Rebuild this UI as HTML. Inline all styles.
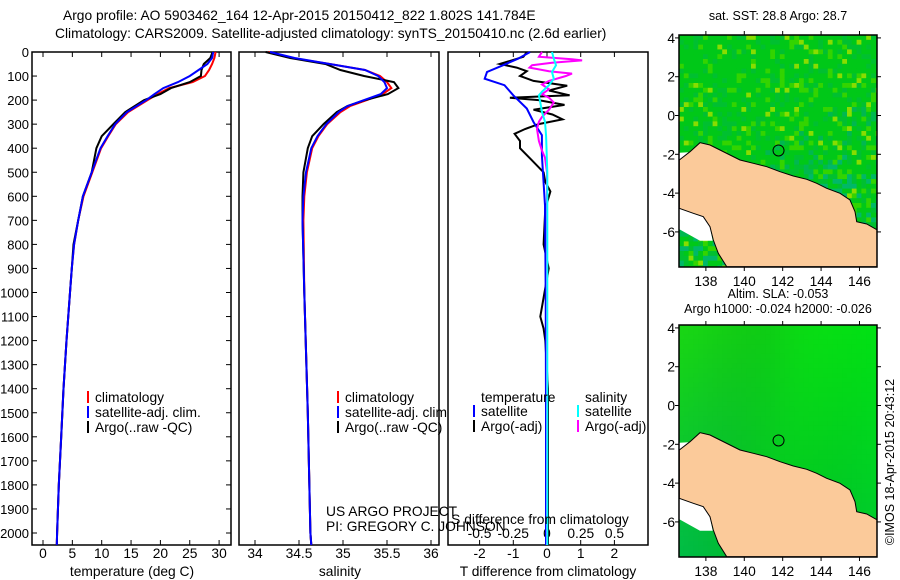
<!DOCTYPE html>
<html><head><meta charset="utf-8"><style>
body{margin:0;background:#fff}
svg{display:block;font-family:"Liberation Sans",sans-serif;font-size:13.8px}
</style></head><body>
<svg id="c" width="900" height="580" viewBox="0 0 900 580" xmlns="http://www.w3.org/2000/svg">
<g id="g"></g>
<text x="63" y="20">Argo profile: AO 5903462_164 12-Apr-2015 20150412_822 1.802S 141.784E</text>
<text x="55" y="38">Climatology: CARS2009. Satellite-adjusted climatology: synTS_20150410.nc (2.6d earlier)</text>
<text x="778" y="20" text-anchor="middle" font-size="12.5">sat. SST: 28.8 Argo: 28.7</text>
<text x="778" y="298" text-anchor="middle" font-size="12.5">Altim. SLA: -0.053</text>
<text x="778" y="313" text-anchor="middle" font-size="12.5">Argo h1000: -0.024 h2000: -0.026</text>
<text transform="translate(894,462) rotate(-90)" text-anchor="middle" font-size="12.5">©IMOS 18-Apr-2015 20:43:12</text>
<text x="326" y="516">US ARGO PROJECT</text>
<text x="326" y="531">PI: GREGORY C. JOHNSON</text>
</svg>
<script>
const depthT=[0,25,50,75,100,125,150,175,200,250,300,350,400,500,600,700,800,900,1000,1200,1400,1600,1800,2000,2050];
const climT=[29.4,29.2,28.8,28.3,27.6,25.5,21.5,19.5,17.8,14.5,12.4,11.1,9.9,8.4,6.9,6.0,5.3,4.9,4.6,4.0,3.5,3.1,2.7,2.4,2.35];
const satT=[29.0,28.8,28.0,26.5,25.0,23.0,20.5,19.0,17.6,14.3,12.3,11.0,9.8,8.3,6.8,6.0,5.3,4.9,4.6,4.0,3.5,3.1,2.7,2.4,2.35];
const argoT=[28.9,28.5,27.4,27.0,26.9,25.0,21.8,20.0,17.2,14.0,12.0,10.0,9.1,8.3,6.8,6.0,5.2,4.9,4.6,4.0,3.5,3.1,2.7,2.4,2.35];
const depthS=[0,25,50,75,100,125,150,175,200,225,250,300,350,400,500,600,700,1000,1500,2000,2050];
const climS=[34.15,34.42,34.85,35.25,35.42,35.5,35.55,35.45,35.27,35.08,34.97,34.82,34.72,34.65,34.59,34.56,34.55,34.56,34.6,34.63,34.64];
const satS=[34.17,34.45,34.85,35.25,35.4,35.47,35.5,35.43,35.24,35.05,34.95,34.81,34.71,34.64,34.58,34.55,34.54,34.56,34.6,34.63,34.64];
const argoS=[34.12,34.4,34.8,34.97,35.24,35.58,35.63,35.51,35.25,35.05,34.93,34.78,34.65,34.6,34.55,34.54,34.54,34.56,34.6,34.63,34.64];
const depthDT=[0,28,55,83,111,138,180,235,291,346,430,638,1000,1500,2050];
const satDT=[-0.5,-0.86,-1.3,-1.78,-1.85,-1.26,-1.0,-0.6,-0.4,-0.15,-0.15,-0.06,-0.04,-0.03,-0.03];
const depthAT=[0,20,50,65,80,100,120,140,160,180,190,200,220,240,260,280,300,320,340,370,400,450,500,540,580,650,800,900,1100,1150,1200,1400,2050];
const argoDT=[-0.6,-0.7,-1.4,-0.9,-0.6,-0.8,-0.4,0.6,0.06,0.67,-1.1,-0.25,0.52,-0.4,0.16,0.46,-0.25,-0.65,-0.96,-0.8,-0.8,-0.45,-0.1,-0.05,0.1,-0.05,-0.1,0.05,-0.2,-0.1,-0.05,0.03,0.03];
const depthDS=[0,28,55,83,111,138,165,180,210,250,290,350,500,2050];
const satDS=[0.037,0.05,0.067,0.037,0.05,0.015,-0.037,-0.06,-0.05,-0.037,-0.015,-0.007,0.002,0.002];
const depthAS=[0,20,30,35,45,55,65,80,90,100,120,135,155,175,190,210,240,270,290,320,370,410,440,500,2050];
const argoDS=[-0.037,-0.06,0.185,0.26,0.037,-0.11,-0.13,0.015,0.185,0.14,0.015,-0.037,0.015,-0.037,0.015,0.05,0.015,-0.037,-0.06,-0.074,-0.06,-0.037,-0.015,0,0];
const depthTicks=[0,100,200,300,400,500,600,700,800,900,1000,1100,1200,1300,1400,1500,1600,1700,1800,1900,2000];
const tempTicks=[0,5,10,15,20,25,30];
const salTicks=[34,34.5,35,35.5,36];
const dTTicks=[-2,-1,0,1,2];
const dSTicks=[-0.5,-0.25,0,0.25,0.5];
const lonTicks=[138,140,142,144,146];
const latTicks=[4,2,0,-2,-4,-6];

const NS='http://www.w3.org/2000/svg';
const G=document.getElementById('g');
function mk(t,a,p){const e=document.createElementNS(NS,t);for(const k in a)e.setAttribute(k,a[k]);(p||G).appendChild(e);return e;}
const TOP=52,BOT=545;
const yD=d=>TOP+d*0.2405;
const xTemp=v=>43+v*5.87;
const xSal=v=>255+(v-34)*88;
const xDT=v=>547+v*33.7;
const xDS=v=>547+v*135;

function panel(x0,x1,name){
  const r=mk('rect',{x:x0,y:TOP,width:x1-x0,height:BOT-TOP,fill:'#fff',stroke:'#000','stroke-width':1.5});
  
  
}
function line(xs,ds,fx,col,name){
  const pts=xs.map((v,i)=>fx(v).toFixed(1)+','+yD(ds[i]).toFixed(1)).join(' ');
  const p=mk('polyline',{points:pts,fill:'none',stroke:col,'stroke-width':2});
  
  
}
function xticks(ticks,fx,labelY,fmt){
  ticks.forEach(t=>{const x=fx(t);
    mk('line',{x1:x,x2:x,y1:TOP,y2:TOP+5,stroke:'#000'});
    mk('line',{x1:x,x2:x,y1:BOT,y2:BOT-5,stroke:'#000'});
    if(labelY){const tx=mk('text',{x:x,y:labelY,'text-anchor':'middle'});tx.textContent=fmt?fmt(t):t;
      
      }
  });
}
function legendEntry(x,y,col,label){
  if(col)mk('rect',{x:x,y:y-11,width:2,height:12,fill:col});
  const t=mk('text',{x:x+8,y:y});t.textContent=label;
  
  
}

panel(32,231,'temperature-panel');
depthTicks.forEach(d=>{const y=yD(d);
  mk('line',{x1:32,x2:37,y1:y,y2:y,stroke:'#000'});
  mk('line',{x1:231,x2:226,y1:y,y2:y,stroke:'#000'});
  const t=mk('text',{x:29,y:y+5,'text-anchor':'end','font-size':13});t.textContent=d;
  
  
});
xticks(tempTicks,xTemp,558);
line(climT,depthT,xTemp,'#f00','clim-temp-line');
line(argoT,depthT,xTemp,'#000','argo-temp-line');
line(satT,depthT,xTemp,'#00f','sat-temp-line');
legendEntry(87,402,'#f00','climatology');
legendEntry(87,417,'#00f','satellite-adj. clim.');
legendEntry(87,432,'#000','Argo(..raw -QC)');
let tt=mk('text',{x:132,y:576,'text-anchor':'middle'});tt.textContent='temperature (deg C)';


panel(239,439,'salinity-panel');
xticks(salTicks,xSal,558);
line(climS,depthS,xSal,'#f00','clim-sal-line');
line(argoS,depthS,xSal,'#000','argo-sal-line');
line(satS,depthS,xSal,'#00f','sat-sal-line');
legendEntry(337,402,'#f00','climatology');
legendEntry(337,417,'#00f','satellite-adj. clim.');
legendEntry(337,432,'#000','Argo(..raw -QC)');
tt=mk('text',{x:340,y:576,'text-anchor':'middle'});tt.textContent='salinity';


panel(448,648,'difference-panel');
xticks(dTTicks,xDT,558);
dSTicks.forEach(t=>{const tx=mk('text',{x:xDS(t),y:538,'text-anchor':'middle'});tx.textContent=t;
  });
line(argoDT,depthAT,xDT,'#000','argo-tdiff-line');
line(satDT,depthDT,xDT,'#00f','sat-tdiff-line');
line(argoDS,depthAS,xDS,'#f0f','argo-sdiff-line');
line(satDS,depthDS,xDS,'#0ff','sat-sdiff-line');
legendEntry(473,402,null,'temperature');
legendEntry(577,402,null,'salinity');
legendEntry(473,416,'#00f','satellite');
legendEntry(473,431,'#000','Argo(-adj)');
legendEntry(577,416,'#0ff','satellite');
legendEntry(577,431,'#f0f','Argo(-adj)');
tt=mk('text',{x:540,y:524,'text-anchor':'middle'});tt.textContent='S difference from climatology';

tt=mk('text',{x:548,y:576,'text-anchor':'middle'});tt.textContent='T difference from climatology';


const MX0=679,MX1=877,LON0=136.6,LAT0=4.15,PPD=19.2;
const lonX=l=>MX0+(l-LON0)*PPD;
const land=[[58,420],[90,395],[120,368],[150,375],[180,390],[210,405],[240,420],[280,430],[320,440],[360,455],[400,468],[440,478],[470,490],[500,505],[540,520],[570,540],[585,575],[590,605],[620,612],[652,630],[652,740],[200,740],[175,700],[160,660],[150,620],[130,590],[100,580],[58,565]];
const white1=[[58,565],[100,580],[130,590],[150,620],[158,662],[120,662],[58,628]];
const white2=[[58,398],[85,397],[92,405],[80,412],[58,418]];
function hash(i,j){let h=(i*374761393+j*668265263)^0x5bd1e995;h=(h^(h>>>13))*1274126177;return ((h^(h>>>16))>>>0)/4294967296;}
function map(top,name,smooth){
  const bot=top+232;
  const g=mk('g',{});
  
  
  const cid='clip'+top;
  const cp=mk('clipPath',{id:cid},g);mk('rect',{x:MX0,y:top,width:MX1-MX0,height:bot-top},cp);
  const inner=mk('g',{'clip-path':'url(#'+cid+')'},g);
  const cs=PPD*0.25;
  for(let i=0;i*cs<MX1-MX0;i++)for(let j=0;j*cs<bot-top;j++){
    let col;
    const fx=i/41,fy=j/48;
    if(smooth){
      const a=Math.sin(i*0.15+j*0.04)*0.5+0.5;
      const g1=Math.round(215-25*fy-20*a*(1-Math.abs(fx-0.45)*2)+10*fx);
      const b=Math.round(20+50*fy*(0.5+0.5*a)*(1-fx*0.5));
      col=`rgb(${Math.round(25*(1-fx)*(1-fy))},${Math.min(225,g1)},${b})`;
    }else{
      const h=hash(i,j);
      const teal=fy*0.9+fx*0.4-0.5;
      if(h<0.05)col='#88dd00';else if(h<0.17)col='#33d400';else if(h<0.35)col='#00c030';
      else if(teal>0.3&&h<0.6)col='#00b868';else if(teal>0.1&&h<0.5)col='#00b850';else col='#00c818';
    }
    mk('rect',{x:MX0+i*cs,y:top+j*cs,width:cs+0.5,height:cs+0.5,fill:col},inner);
  }
  const tr=p=>(660+p[0]/3).toFixed(1)+','+(top-15+p[1]/3).toFixed(1);
  mk('polygon',{points:white2.map(tr).join(' '),fill:'#fff'},inner);
  mk('polygon',{points:white1.map(tr).join(' '),fill:'#fff'},inner);
  const lp=mk('polygon',{points:land.map(tr).join(' '),fill:'#fbca9a',stroke:'#000','stroke-width':1},inner);
  
  
  mk('circle',{cx:lonX(141.784),cy:top+(LAT0+1.802)*19.4,r:5.5,fill:'none',stroke:'#000','stroke-width':1},g);
  mk('rect',{x:MX0,y:top,width:MX1-MX0,height:bot-top,fill:'none',stroke:'#000','stroke-width':1.5},g);
  lonTicks.forEach(l=>{const x=lonX(l);
    mk('line',{x1:x,x2:x,y1:top,y2:top-4,stroke:'#000'},g);
    mk('line',{x1:x,x2:x,y1:bot,y2:bot+4,stroke:'#000'},g);
    const t=mk('text',{x:x,y:bot+19,'text-anchor':'middle'},g);t.textContent=l;
    
  });
  latTicks.forEach(l=>{const y=top+(LAT0-l)*19.4;
    mk('line',{x1:MX0,x2:MX0-4,y1:y,y2:y,stroke:'#000'},g);
    mk('line',{x1:MX1,x2:MX1+4,y1:y,y2:y,stroke:'#000'},g);
    const t=mk('text',{x:675,y:y+5,'text-anchor':'end'},g);t.textContent=l;
    
  });
}
map(35,'sst-map',false);
map(325,'sla-map',true);
</script>
</body></html>
